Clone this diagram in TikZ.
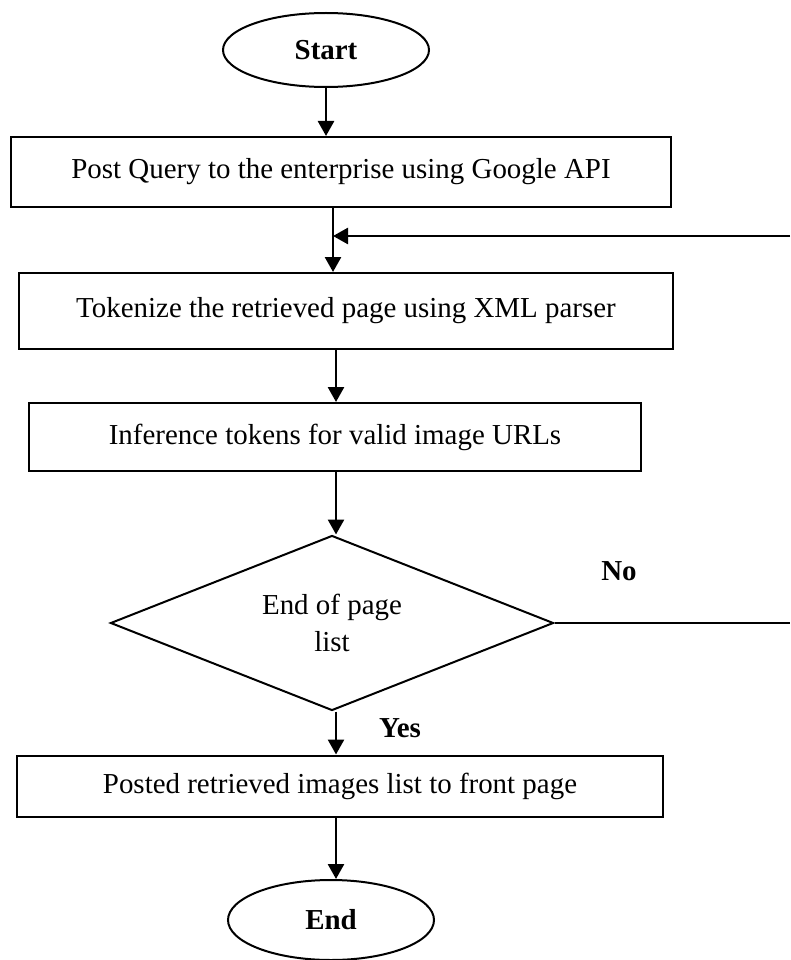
\documentclass[tikz,border=0pt]{standalone}
\usepackage{fontspec}
\setmainfont{Liberation Serif}
\usetikzlibrary{shapes.geometric,arrows.meta}

\tikzset{
  terminal/.style={ellipse,draw,line width=0.6mm,minimum width=61.8mm,
    minimum height=22.2mm,inner sep=0pt,font=\fontsize{24.7}{30}\selectfont\bfseries},
  process/.style={rectangle,draw,line width=0.6mm,minimum height=21mm,
    inner sep=0pt,font=\fontsize{24.7}{30}\selectfont},
  decision/.style={diamond,draw,line width=0.6mm,shape aspect=2.5,
    minimum width=132.9mm,minimum height=52.5mm,inner sep=0pt,align=center,
    font=\fontsize{24.7}{11.1mm}\selectfont},
  flow/.style={line width=0.8mm,-{Triangle[length=4.5mm,width=4.8mm]}},
  tag/.style={font=\fontsize{24.7}{30}\selectfont\bfseries}
}

\begin{document}
\begin{tikzpicture}[x=0.3mm,y=-0.3mm]
                \useasboundingbox (0,0) rectangle (790,960);
                \coordinate(R)at(790,236);
                \coordinate(J)at(333,236);
                \coordinate(S)at(336,0);
                \node[terminal](start)at(326,50){Start};
                \node[process,minimum width=198mm](query)at(341,172){Post Query to the enterprise using Google API};
                \node[process,minimum width=196mm,minimum height=22.8mm](token)at(346,311){Tokenize the retrieved page using XML parser};
                \node[process,minimum width=183.6mm,minimum height=20.4mm](infer)at(335,437){Inference tokens for valid image URLs};
                \node[decision](last)at(332,623){End of page\\list};
                \node[process,minimum width=193.8mm,minimum height=18.3mm](post)at(340,786){Posted retrieved images list to front page};
                \node[terminal,minimum height=24mm](stop)at(331,920){End};
                \node[tag](no)at(619,571){No};
                \node[tag](yes)at(400,728){Yes};
                \draw[flow](start.south)--(start.south|-query.north);
                \draw[flow](query.south-|J)--(token.north-|J);
                \draw[flow](R)--(J);
                \draw[flow](token.south-|S)--(infer.north-|S);
                \draw[flow](infer.south-|S)--(last.north-|S);
                \draw[flow](last.south-|S)--(post.north-|S);
                \draw[flow](post.south-|S)--(stop.north-|S);
                \draw[line width=0.8mm](last.east)--(last.east-|R);
            \end{tikzpicture}
\end{document}
